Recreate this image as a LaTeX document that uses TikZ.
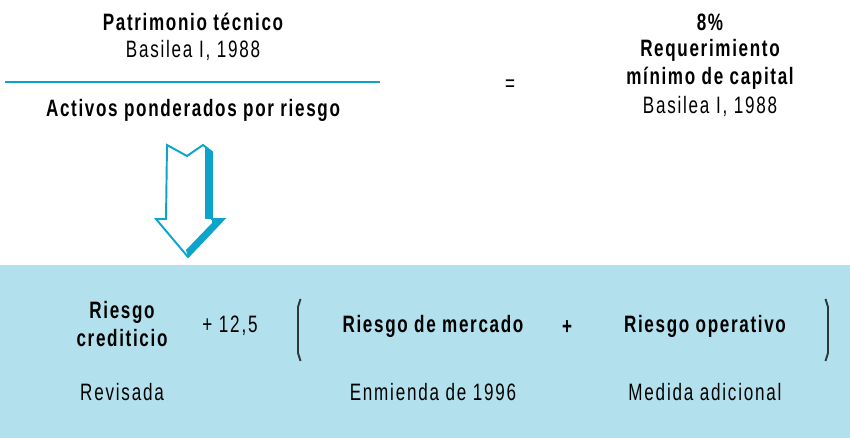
\documentclass[tikz,border=0pt]{standalone}
\usepackage{fontspec}
\setmainfont{Liberation Sans}[FakeStretch=0.72,LetterSpace=7.5,BoldFeatures={LetterSpace=7}]
\usepackage{xcolor}

\definecolor{rulecyan}{RGB}{12,164,203}
\definecolor{bandblue}{RGB}{178,224,236}
\definecolor{parengray}{RGB}{45,55,60}

\begin{document}
\begin{tikzpicture}[x=0.02cm,y=-0.02cm,
    every node/.style={inner sep=0pt,align=center,
      font=\fontsize{13.5}{15.9}\selectfont},
    bold/.style={font=\fontsize{13.5}{15.9}\selectfont\bfseries},
    paren/.style={draw=parengray,line width=1.1pt}]
    \useasboundingbox (0,0) rectangle (850,438);

    % Band
    \fill[bandblue] (0,265) rectangle (850,438);

    % Fraction
    \node[bold] (num) at (193,22) {Patrimonio técnico};
    \node (numyear) at (193,50) {Basilea I, 1988};
    \draw[rulecyan,line width=0.8pt] (5,82) -- (380,82);
    \node[bold] (den) at (193,110) {Activos ponderados por riesgo};
    \node (eq) at (510,86) {=};

    % Requirement
    \node[bold] (pct) at (710,22) {8\%};
    \node[bold] (req) at (710,64) {Requerimiento\\mínimo de capital};
    \node (reqyear) at (710,106) {Basilea I, 1988};

    % Arrow
    \filldraw[fill=white,draw=rulecyan,line width=1.1pt,line join=miter]
      (167,145) -- (187,156) -- (203,145) -- (212,152) -- (212,219)
      -- (224,219) -- (188,257) -- (156,219) -- (166,219) -- cycle;
    \fill[rulecyan] (203,145) -- (212,152) -- (212,219) -- (205,219) -- (205,146) -- cycle;
    \fill[rulecyan] (224,219) -- (188,257) -- (186,250) -- (212,223) -- (212,219) -- cycle;

    % Risks
    \node[bold] (cred) at (122,324) {Riesgo\\crediticio};
    \node (factor) at (230,326) {+ 12,5};
    \node[bold] (mkt) at (433,326) {Riesgo de mercado};
    \node[bold] (plus) at (567,328) {+};
    \node[bold] (ops) at (705,326) {Riesgo operativo};
    \draw[paren] (300.5,299) -- (298,307) -- (298,353) -- (300.5,361);
    \draw[paren] (825.5,299) -- (828,307) -- (828,353) -- (825.5,361);

    % Sources
    \node (rev) at (122,392) {Revisada};
    \node (amend) at (433,392) {Enmienda de 1996};
    \node (extra) at (705,392) {Medida adicional};
\end{tikzpicture}
\end{document}
